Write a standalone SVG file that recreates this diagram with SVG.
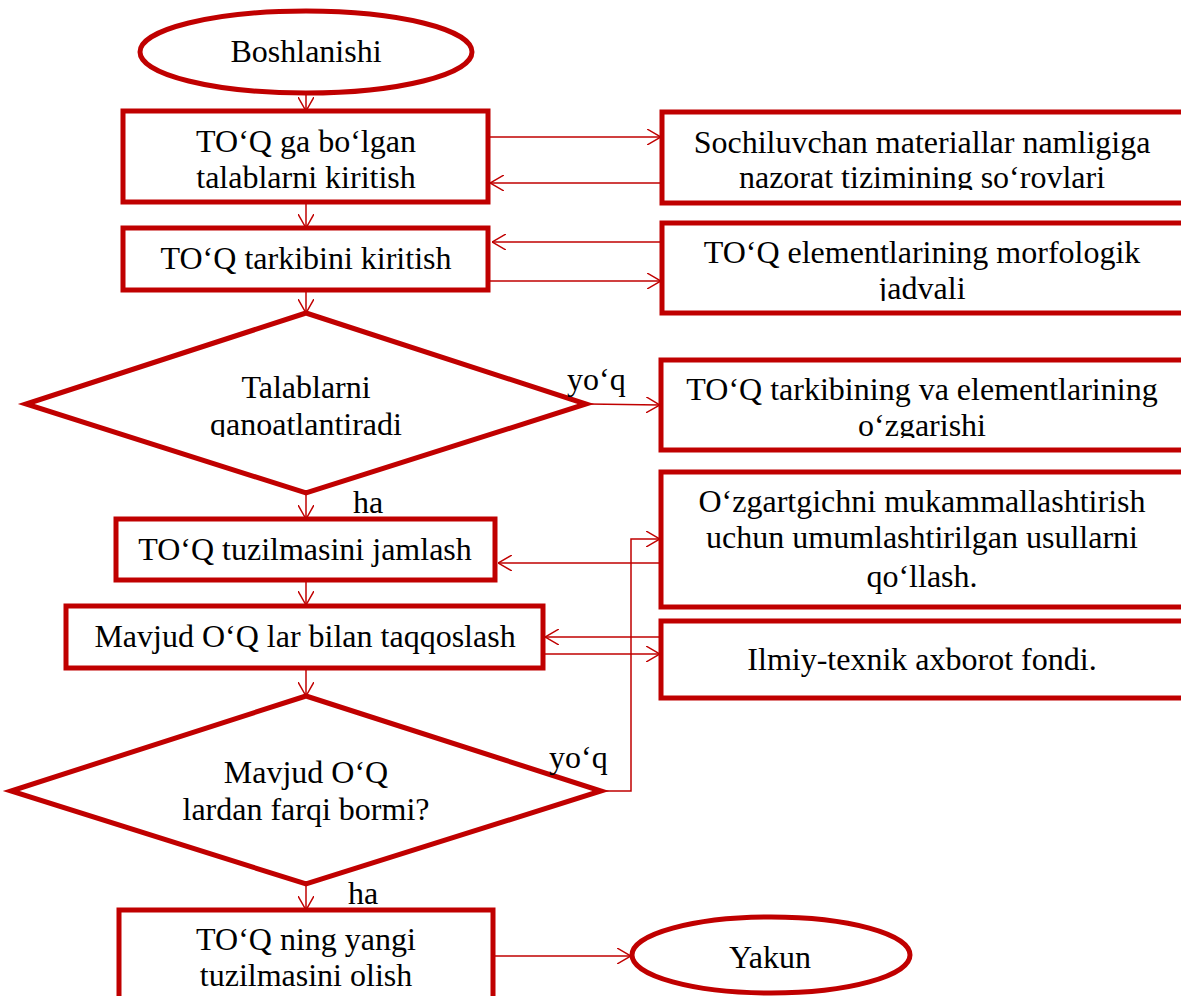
<svg xmlns="http://www.w3.org/2000/svg" width="1181" height="996" viewBox="0 0 1181 996">
<style>
.n{fill:#fff;stroke:#c00000;stroke-width:5}
.c{fill:none;stroke:#c00000;stroke-width:1.5}
text{font-family:"Liberation Serif","Times New Roman",serif;font-size:32px;fill:#000}
.m{text-anchor:middle}
</style>
<defs>
<marker id="ah" viewBox="0 0 14 16" refX="14" refY="8" markerWidth="14" markerHeight="16" markerUnits="userSpaceOnUse" orient="auto">
<path d="M0,0 L14,8 L0,16" fill="none" stroke="#c00000" stroke-width="1.5"/>
</marker>
<clipPath id="cl1"><rect x="662" y="112" width="540" height="78"/></clipPath>
<clipPath id="cl2"><rect x="662" y="222" width="540" height="79"/></clipPath>
<clipPath id="cl3"><rect x="662" y="360" width="540" height="78"/></clipPath>
<clipPath id="cl4"><rect x="0" y="300" width="600" height="137"/></clipPath>
</defs>
<rect width="1181" height="996" fill="#fff"/>
<g id="connectors">
<line class="c" x1="306" y1="93" x2="306" y2="111" marker-end="url(#ah)"/>
<line class="c" x1="306" y1="203" x2="306" y2="228" marker-end="url(#ah)"/>
<line class="c" x1="306" y1="290" x2="306" y2="313" marker-end="url(#ah)"/>
<line class="c" x1="306" y1="493" x2="306" y2="519" marker-end="url(#ah)"/>
<line class="c" x1="306" y1="580" x2="306" y2="605" marker-end="url(#ah)"/>
<line class="c" x1="306" y1="668" x2="306" y2="696" marker-end="url(#ah)"/>
<line class="c" x1="306" y1="884" x2="306" y2="910" marker-end="url(#ah)"/>
<line class="c" x1="490" y1="137" x2="661" y2="137" marker-end="url(#ah)"/>
<line class="c" x1="661" y1="183" x2="490" y2="183" marker-end="url(#ah)"/>
<line class="c" x1="661" y1="242" x2="492" y2="242" marker-end="url(#ah)"/>
<line class="c" x1="490" y1="281" x2="661" y2="281" marker-end="url(#ah)"/>
<line class="c" x1="588" y1="404" x2="660" y2="405" marker-end="url(#ah)"/>
<line class="c" x1="660" y1="563" x2="498" y2="563" marker-end="url(#ah)"/>
<polyline class="c" points="602,791 631,791 631,539 660,539" marker-end="url(#ah)"/>
<line class="c" x1="660" y1="637" x2="545" y2="637" marker-end="url(#ah)"/>
<line class="c" x1="545" y1="654" x2="660" y2="654" marker-end="url(#ah)"/>
<line class="c" x1="495" y1="956" x2="631" y2="956" marker-end="url(#ah)"/>
</g>
<g id="start">
<ellipse class="n" cx="306" cy="52" rx="166" ry="41"/>
<text class="m" x="306" y="62">Boshlanishi</text>
</g>
<g id="box1">
<rect class="n" x="123" y="111" width="365" height="91"/>
<text class="m" x="306" y="152">TO‘Q ga bo‘lgan</text>
<text class="m" x="306" y="188">talablarni kiritish</text>
</g>
<g id="box2">
<rect class="n" x="123" y="228" width="365" height="62"/>
<text class="m" x="306" y="269">TO‘Q tarkibini kiritish</text>
</g>
<g id="rbox1">
<rect class="n" x="662" y="112" width="540" height="91"/>
<g clip-path="url(#cl1)">
<text class="m" x="922" y="153">Sochiluvchan materiallar namligiga</text>
<text class="m" x="922" y="188">nazorat tizimining so‘rovlari</text>
</g>
</g>
<g id="rbox2">
<rect class="n" x="662" y="223" width="540" height="90"/>
<g clip-path="url(#cl2)">
<text class="m" x="922" y="263">TO‘Q elementlarining morfologik</text>
<text class="m" x="922" y="299">jadvali</text>
</g>
</g>
<g id="diamond1">
<polygon class="n" points="306,313 586,404 306,493 26,404"/>
<g clip-path="url(#cl4)">
<text class="m" x="306" y="398">Talablarni</text>
<text class="m" x="306" y="435">qanoatlantiradi</text>
</g>
<text x="567" y="390">yo‘q</text>
<text x="353" y="513">ha</text>
</g>
<g id="rbox3">
<rect class="n" x="661" y="360" width="540" height="90"/>
<g clip-path="url(#cl3)">
<text class="m" x="922" y="400">TO‘Q tarkibining va elementlarining</text>
<text class="m" x="922" y="436">o‘zgarishi</text>
</g>
</g>
<g id="box3">
<rect class="n" x="116" y="519" width="379" height="61"/>
<text class="m" x="305" y="560">TO‘Q tuzilmasini jamlash</text>
</g>
<g id="rbox4">
<rect class="n" x="661" y="472" width="540" height="135"/>
<text class="m" x="922" y="512">O‘zgartgichni mukammallashtirish</text>
<text class="m" x="922" y="548">uchun umumlashtirilgan usullarni</text>
<text class="m" x="922" y="587">qo‘llash.</text>
</g>
<g id="box4">
<rect class="n" x="66" y="606" width="477" height="62"/>
<text class="m" x="305" y="647">Mavjud O‘Q lar bilan taqqoslash</text>
</g>
<g id="rbox5">
<rect class="n" x="661" y="621" width="540" height="77"/>
<text class="m" x="922" y="670">Ilmiy-texnik axborot fondi.</text>
</g>
<g id="diamond2">
<polygon class="n" points="306,696 601,791 306,884 11,791"/>
<text class="m" x="306" y="783">Mavjud O‘Q</text>
<text class="m" x="306" y="820">lardan farqi bormi?</text>
<text x="549" y="768">yo‘q</text>
<text x="348" y="904">ha</text>
</g>
<g id="box5">
<rect class="n" x="119" y="910" width="374" height="100"/>
<text class="m" x="306" y="950">TO‘Q ning yangi</text>
<text class="m" x="306" y="986">tuzilmasini olish</text>
</g>
<g id="end">
<ellipse class="n" cx="771" cy="955" rx="139" ry="38"/>
<text class="m" x="770" y="968">Yakun</text>
</g>
</svg>
